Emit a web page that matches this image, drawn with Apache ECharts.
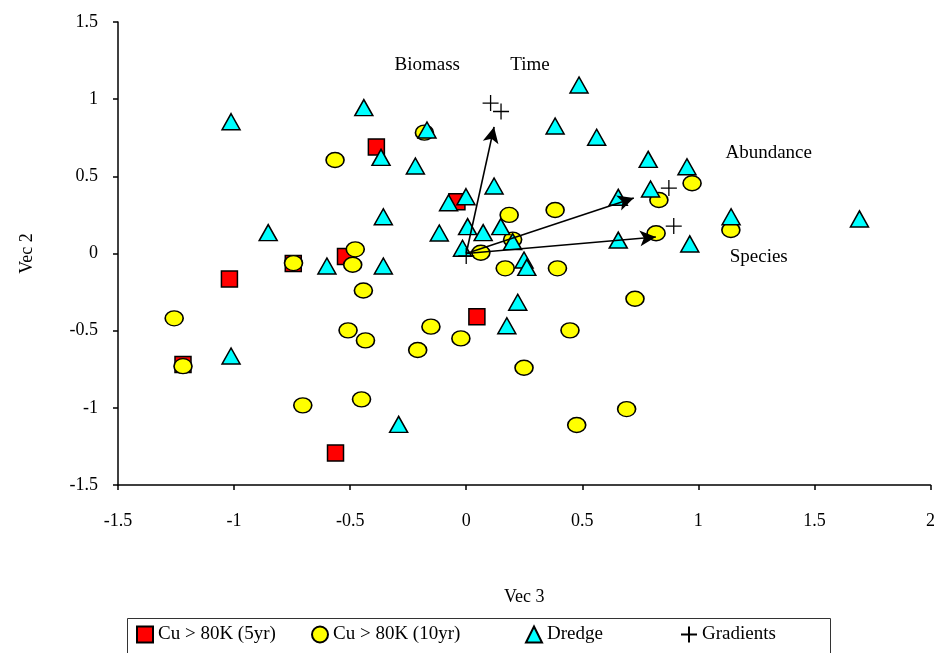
<!DOCTYPE html>
<html>
<head>
<meta charset="utf-8">
<script src="https://cdn.jsdelivr.net/npm/echarts@6/dist/echarts.min.js"></script>
<style>
html,body{margin:0;padding:0;background:#fff;}
#chart{width:938px;height:653px;}
</style>
</head>
<body>
<div id="chart"></div>
<script>
// ---- data (Vec 3, Vec 2) ----
var cu5yr = [
  [-0.387, 0.69], [-1.02, -0.165], [-0.745, -0.065], [-0.52, -0.02],
  [-0.04, 0.335], [0.046, -0.41], [-1.22, -0.72], [-0.563, -1.293]
];
var cu10yr = [
  [-0.565, 0.606], [-0.18, 0.783], [-0.478, 0.027], [-0.489, -0.073],
  [-0.744, -0.062], [-1.258, -0.42], [-1.22, -0.73], [-0.443, -0.24],
  [-0.509, -0.498], [-0.434, -0.563], [-0.704, -0.984], [-0.451, -0.945],
  [-0.152, -0.474], [-0.023, -0.55], [-0.209, -0.625], [0.185, 0.25],
  [0.383, 0.282], [0.2, 0.09], [0.063, 0.005], [0.168, -0.096],
  [0.393, -0.096], [0.83, 0.347], [0.973, 0.455], [0.818, 0.131],
  [1.14, 0.152], [0.727, -0.293], [0.447, -0.498], [0.249, -0.74],
  [0.691, -1.008], [0.476, -1.111]
];
var dredge = [
  [-1.013, 0.854], [-0.441, 0.945], [-0.367, 0.623], [-0.169, 0.80],
  [-0.219, 0.567], [0.486, 1.092], [0.383, 0.826], [0.562, 0.753],
  [0.12, 0.437], [-0.076, 0.329], [-0.001, 0.368], [-0.357, 0.238],
  [-0.853, 0.135], [-0.116, 0.133], [0.006, 0.174], [0.073, 0.135],
  [0.149, 0.174], [0.2, 0.077], [-0.016, 0.034], [-0.60, -0.081],
  [-0.357, -0.081], [0.249, -0.042], [0.261, -0.09], [-1.013, -0.664],
  [0.222, -0.316], [0.175, -0.468], [-0.291, -1.107], [0.655, 0.364],
  [0.655, 0.087], [0.784, 0.61], [0.794, 0.418], [0.951, 0.562],
  [0.963, 0.062], [1.141, 0.238], [1.694, 0.224]
];
var gradients = [
  [0, -0.016], [0.105, 0.975], [0.15, 0.92], [0.873, 0.424], [0.894, 0.178]
];
var arrowOrigin = [0, 0];
var arrowEnds = [
  [0.12, 0.82], [0.722, 0.36], [0.817, 0.107]
];
var vectorLabels = ['Biomass', 'Time', 'Abundance', 'Species'];
var vectorLabelPos = [
  [-0.168, 1.222], [0.275, 1.222], [1.303, 0.651], [1.26, -0.023]
];
var xTicks = { min: -1.5, max: 2, interval: 0.5 };
var yTicks = { min: -1.5, max: 1.5, interval: 0.5 };
var seriesNames = ['Cu > 80K (5yr)', 'Cu > 80K (10yr)', 'Dredge', 'Gradients'];

// ---- chart ----
var FONT = '"Liberation Serif", "Times New Roman", serif';
var plusPath = 'path://M0,8H16M8,0V16';
var chart = echarts.init(document.getElementById('chart'), null, { renderer: 'canvas' });

var axisCommon = {
  axisLine: { show: true, onZero: false, lineStyle: { color: '#000', width: 1.5 } },
  axisTick: { show: true, inside: false, length: 5, lineStyle: { color: '#000', width: 1.5 } },
  splitLine: { show: false },
  axisLabel: { color: '#000', fontSize: 18, fontFamily: FONT },
  nameTextStyle: { color: '#000', fontSize: 18, fontFamily: FONT }
};

var legendPos = [136, 311, 525, 680];
var legends = seriesNames.map(function (n, i) {
  return {
    data: [n], left: legendPos[i], top: 625, padding: 0,
    itemWidth: 16, itemHeight: 16, itemGap: 5,
    textStyle: { color: '#000', fontSize: 19, fontFamily: FONT },
    selectedMode: false
  };
});

var option = {
  animation: false,
  backgroundColor: '#fff',
  grid: { left: 118, right: 6, top: 22, bottom: 168, containLabel: false },
  xAxis: Object.assign({}, axisCommon, {
    type: 'value', min: xTicks.min, max: xTicks.max, interval: xTicks.interval,
    name: 'Vec 3', nameLocation: 'middle', nameGap: 103,
    axisLabel: Object.assign({}, axisCommon.axisLabel, { margin: 27 })
  }),
  yAxis: Object.assign({}, axisCommon, {
    type: 'value', min: yTicks.min, max: yTicks.max, interval: yTicks.interval,
    name: 'Vec 2', nameLocation: 'middle', nameGap: 82, nameRotate: 90,
    axisLabel: Object.assign({}, axisCommon.axisLabel, { margin: 20 })
  }),
  legend: legends,
  graphic: [{
    type: 'rect', left: 125, top: 616, shape: { width: 703, height: 36 },
    style: { fill: 'none', stroke: '#333', lineWidth: 1 }, z: 100, silent: true
  }],
  series: [
    {
      name: seriesNames[0], type: 'scatter', data: cu5yr, symbol: 'rect', symbolSize: 16,
      itemStyle: { color: '#FF0000', borderColor: '#000', borderWidth: 1.5, opacity: 1 }, z: 2
    },
    {
      name: seriesNames[1], type: 'scatter', data: cu10yr, symbol: 'circle', symbolSize: [18, 15],
      itemStyle: { color: '#FFFF00', borderColor: '#000', borderWidth: 1.5, opacity: 1 }, z: 3
    },
    {
      name: seriesNames[2], type: 'scatter', data: dredge, symbol: 'triangle', symbolSize: [18, 16],
      itemStyle: { color: '#00FFFF', borderColor: '#000', borderWidth: 1.5, opacity: 1 }, z: 4
    },
    {
      name: seriesNames[3], type: 'scatter', data: gradients, symbol: plusPath, symbolSize: 16,
      itemStyle: { color: 'rgba(0,0,0,0)', borderColor: '#000', borderWidth: 1.3, opacity: 1 }, z: 6,
      markLine: {
        silent: true, animation: false,
        symbol: ['none', 'arrow'], symbolSize: [12, 16],
        lineStyle: { color: '#000', width: 1.6, type: 'solid' },
        label: { show: false },
        emphasis: { disabled: true },
        data: arrowEnds.map(function (e) { return [{ coord: arrowOrigin }, { coord: e }]; })
      }
    },
    {
      name: 'labels', type: 'scatter', symbolSize: 0, z: 7, silent: true,
      itemStyle: { opacity: 1, color: '#000' },
      data: vectorLabels.map(function (n, i) { return { name: n, value: vectorLabelPos[i] }; }),
      label: {
        show: true, position: 'inside', formatter: '{b}',
        color: '#000', fontSize: 19, fontFamily: FONT,
        textBorderWidth: 0, textShadowBlur: 0
      }
    }
  ]
};
chart.setOption(option);
</script>
</body>
</html>
